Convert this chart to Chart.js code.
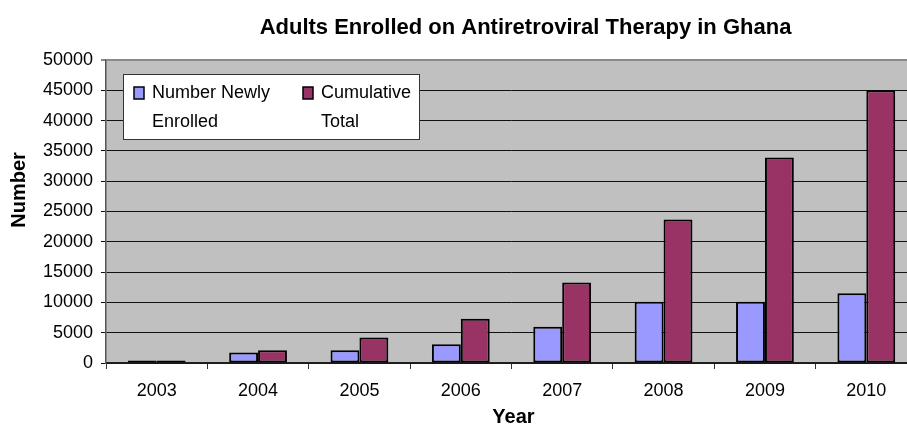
<!DOCTYPE html>
<html>
<head>
<meta charset="utf-8">
<script src="https://cdn.jsdelivr.net/npm/chart.js@4/dist/chart.umd.min.js"></script>
<style>
  html, body { margin: 0; padding: 0; background: #fff; overflow: hidden; }
  #wrap { width: 907px; height: 425px; overflow: hidden; }
</style>
</head>
<body>
<div id="wrap"><canvas id="artChart" width="920" height="425"></canvas></div>
<script>
// Data
const years = ['2003', '2004', '2005', '2006', '2007', '2008', '2009', '2010'];
const newlyEnrolled = [400, 1750, 2100, 3100, 6000, 10100, 10100, 11500];
const cumulativeTotal = [400, 2100, 4200, 7300, 13300, 23700, 33900, 45000];
const newlyLabel = ['Number Newly', 'Enrolled'];
const cumulativeLabel = ['Cumulative', 'Total'];
const yTicks = { min: 0, max: 50000, step: 5000 };

const chartTitle = 'Adults Enrolled on Antiretroviral Therapy in Ghana';
const xTitle = 'Year';
const yTitle = 'Number';
const FONT = '"Liberation Sans", Arial, Helvetica, sans-serif';

// Plot background, titles and the boxed legend
const decorPlugin = {
  id: 'decor',
  beforeDraw(chart) {
    const { ctx, chartArea: a } = chart;
    ctx.save();
    ctx.fillStyle = '#c0c0c0';
    ctx.fillRect(a.left, a.top, a.right - a.left, a.bottom - a.top);
    ctx.restore();
  },
  afterDraw(chart) {
    const { ctx, chartArea: a } = chart;
    ctx.save();
    ctx.fillStyle = '#000';

    // main title
    ctx.font = 'bold 22px ' + FONT;
    ctx.textAlign = 'center';
    ctx.textBaseline = 'alphabetic';
    ctx.fillText(chartTitle, (a.left + a.right) / 2 + 14, 34);

    // x title
    ctx.font = 'bold 20px ' + FONT;
    ctx.fillText(xTitle, (a.left + a.right) / 2 + 2, 423);

    // y title
    ctx.save();
    ctx.translate(25, 190);
    ctx.rotate(-Math.PI / 2);
    ctx.fillText(yTitle, 0, 0);
    ctx.restore();

    // legend
    const bx = a.left + 17, by = a.top + 14, bw = 296, bh = 65;
    ctx.fillStyle = '#fff';
    ctx.fillRect(bx, by, bw, bh);
    ctx.strokeStyle = '#333';
    ctx.lineWidth = 1;
    ctx.strokeRect(bx + 0.5, by + 0.5, bw, bh);

    ctx.font = '18px ' + FONT;
    ctx.textAlign = 'left';
    ctx.textBaseline = 'middle';
    const colX = [bx + 11, bx + 180];
    chart.data.datasets.forEach((ds, i) => {
      const sx = colX[i];
      ctx.fillStyle = ds.backgroundColor;
      ctx.fillRect(sx, by + 13, 10, 12);
      ctx.strokeStyle = '#000';
      ctx.lineWidth = 1.5;
      ctx.strokeRect(sx, by + 13, 10, 12);
      ctx.fillStyle = '#000';
      ds.legendLines.forEach((line, j) => {
        ctx.fillText(line, sx + 18, by + 19 + j * 29);
      });
    });
    ctx.restore();
  }
};

const ctx = document.getElementById('artChart').getContext('2d');
const artChart = new Chart(ctx, {
  type: 'bar',
  data: {
    labels: years,
    datasets: [{
      label: newlyLabel.join(' '),
      legendLines: newlyLabel,
      data: newlyEnrolled,
      backgroundColor: '#9999ff',
      borderColor: '#000',
      borderWidth: 2,
      borderSkipped: false
    }, {
      label: cumulativeLabel.join(' '),
      legendLines: cumulativeLabel,
      data: cumulativeTotal,
      backgroundColor: '#993366',
      borderColor: '#000',
      borderWidth: 2,
      borderSkipped: false
    }]
  },
  options: {
    responsive: false,
    animation: false,
    layout: { padding: { top: 60, right: 3, left: 0, bottom: 0 } },
    datasets: {
      bar: { categoryPercentage: 0.57, barPercentage: 1 }
    },
    plugins: {
      legend: { display: false },
      title: { display: false },
      tooltip: { enabled: false }
    },
    scales: {
      x: {
        afterFit: scale => { scale.height = 62; },
        grid: {
          offset: true,
          drawOnChartArea: false,
          drawTicks: true,
          tickLength: 6,
          color: '#333'
        },
        border: { color: '#222', width: 1.5 },
        ticks: {
          color: '#000',
          font: { family: FONT, size: 18 },
          padding: 11,
          maxRotation: 0
        }
      },
      y: {
        min: yTicks.min,
        max: yTicks.max,
        afterFit: scale => { scale.width = 106; },
        grid: {
          color: c => (c.tick && c.tick.value === yTicks.max) ? '#8a8a8a' : '#111',
          lineWidth: c => (c.tick && c.tick.value === yTicks.max) ? 2 : 1,
          tickLength: 5,
          drawTicks: true
        },
        border: { color: '#555', width: 1.5 },
        ticks: {
          stepSize: yTicks.step,
          color: '#000',
          font: { family: FONT, size: 18 },
          padding: 8,
          callback: v => String(v)
        }
      }
    }
  },
  plugins: [decorPlugin]
});
</script>
</body>
</html>
